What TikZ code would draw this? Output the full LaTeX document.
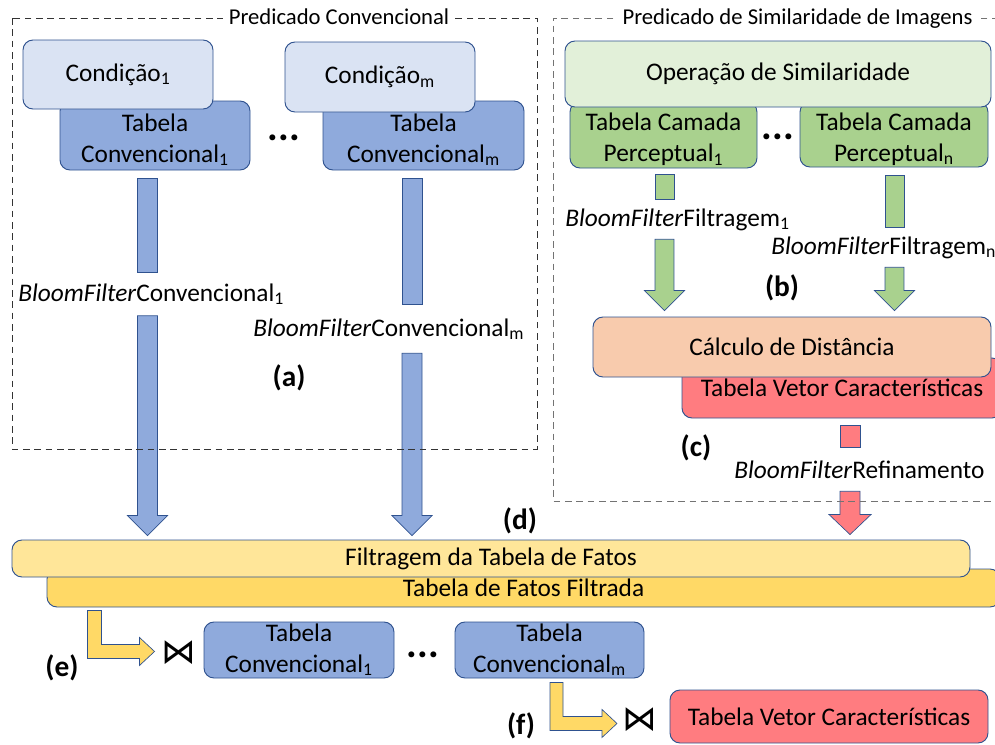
\documentclass[tikz,border=0pt]{standalone}
\usepackage{fontspec}
\setmainfont{Carlito}
\newfontfamily\djv{DejaVu Sans}
\usetikzlibrary{calc}

\definecolor{outl}{HTML}{2F528F}
\definecolor{blueL}{HTML}{DAE3F3}
\definecolor{blueB}{HTML}{8FAADC}
\definecolor{greenL}{HTML}{E2F0D9}
\definecolor{greenB}{HTML}{A9D18E}
\definecolor{orangeL}{HTML}{F8CBAD}
\definecolor{redB}{HTML}{FF7C80}
\definecolor{yellowL}{HTML}{FFE699}
\definecolor{yellowB}{HTML}{FFD966}

\newcommand\txtsz{\fontsize{19}{23}\selectfont}
\newcommand\ttlsz{\fontsize{17}{20}\selectfont}
% taller first line, pushes the two-line labels of half-covered tables down
\newcommand\lowstrut{\rule{0pt}{20pt}}

% vertical block shaft: style, x reference, top point, bottom point, half width
\newcommand\vshaft[5]{%
  \draw[#1] let \p1=(#2), \p2=(#3), \p3=(#4) in
    (\x1-#5,\y2) rectangle (\x1+#5,\y3);}
% vertical block arrow: style, x reference, top point, tip point, shaft half width, head half width
\newcommand\varrow[6]{%
  \draw[#1] let \p1=(#2), \p2=(#3), \p3=(#4) in
    (\x1-#5,\y2) -- (\x1+#5,\y2) -- (\x1+#5,\y3+15pt) -- (\x1+#6,\y3+15pt)
    -- (\x1,\y3) -- (\x1-#6,\y3+15pt) -- (\x1-#5,\y3+15pt) -- cycle;}

\tikzset{
  box/.style={draw=outl, line width=0.7pt, rounded corners=7.5pt, inner sep=0pt,
    align=center, font=\txtsz, text=black},
  span/.style n args={4}{at={({(#1+#3)/2},{(#2+#4)/2})},
    minimum width={(#3-#1)*0.75pt}, minimum height={(#4-#2)*0.75pt}},
  bflabel/.style={inner sep=0pt, anchor=west, font=\txtsz},
  tag/.style={inner sep=0pt, font=\bfseries\fontsize{22}{22}\selectfont},
  dots/.style={inner sep=0pt, anchor=base, font=\bfseries\fontsize{30}{30}\selectfont},
  joinsym/.style={inner sep=0pt, font=\djv\fontsize{26}{26}\selectfont},
  ttl/.style={fill=white, inner xsep=4pt, inner ysep=1.5pt, anchor=base, font=\ttlsz},
  blueblk/.style={fill=blueB, draw=outl, line width=0.5pt},
  greenblk/.style={fill=greenB, draw=outl, line width=0.5pt},
  redblk/.style={fill=redB, draw=outl, line width=0.5pt},
  yellowblk/.style={fill=yellowB, draw=outl, line width=0.5pt},
  dashbox/.style={draw=black!80, line width=0.75pt, dash pattern=on 5pt off 3.5pt},
  dashboxg/.style={draw=black!55, line width=0.75pt, dash pattern=on 5pt off 3.5pt},
}

\begin{document}
\begin{tikzpicture}[x=0.75pt, y=-0.75pt]
\useasboundingbox (0,0) rectangle (995,744);
\clip (0,0) rectangle (995,744);

% ---- conventional predicate tables and conditions
\node[box, fill=blueB, span={60}{101}{250}{170}] (tc1) {\lowstrut Tabela\\Convencional\textsubscript{1}};
\node[box, fill=blueL, span={23}{40}{213}{109}] (c1) {Condição\textsubscript{1}};
\node[box, fill=blueB, span={323}{101}{524}{170}] (tcm) {\lowstrut Tabela\\Convencional\textsubscript{m}};
\node[box, fill=blueL, span={285}{42}{475}{112}] (cm) {Condição\textsubscript{m}};
\node[dots] (dA) at (284,140) {...};

% ---- image similarity predicate
\node[box, fill=greenB, span={570}{102}{757}{168}] (g1) {\lowstrut Tabela Camada\\Perceptual\textsubscript{1}};
\node[box, fill=greenB, span={800}{102}{988}{167}] (gn) {\lowstrut Tabela Camada\\Perceptual\textsubscript{n}};
\node[box, fill=greenL, span={565}{41}{991}{107}] (op) {Operação de Similaridade};
\node[dots] (dB) at (778,139) {...};
\node[box, fill=redB, span={682}{358}{1002}{418}] (tv) {Tabela Vetor Características};
\node[box, fill=orangeL, span={593}{317}{991}{377}] (cd) {Cálculo de Distância};

% ---- fact table
\node[box, fill=yellowB, span={47}{569}{1000}{607}] (tff) {Tabela de Fatos Filtrada};
\node[box, fill=yellowL, span={12}{540}{970}{577}] (ft) {Filtragem da Tabela de Fatos};

% ---- joins
\node[box, fill=blueB, span={204}{622}{394}{678}] (tb1) {Tabela\\Convencional\textsubscript{1}};
\node[box, fill=blueB, span={455}{622}{644}{678}] (tbm) {Tabela\\Convencional\textsubscript{m}};
\node[dots] (dC) at (423,657) {...};
\node[box, fill=redB, span={670}{690}{988}{743}] (tvb) {Tabela Vetor Características};
\node[joinsym] (je) at (179,653) {⋈};
\node[joinsym] (jf) at (640,720) {⋈};

% ---- bloom filter labels
\node[bflabel, minimum height=43*0.75pt] (bfc1) at (18,294) {\textit{BloomFilter}Convencional\textsubscript{1}};
\node[bflabel, minimum height=48*0.75pt] (bfcm) at (253,329) {\textit{BloomFilter}Convencional\textsubscript{m}};
\node[bflabel, minimum height=39*0.75pt] (bff1) at (565,219.5) {\textit{BloomFilter}Filtragem\textsubscript{1}};
\node[bflabel, minimum height=39*0.75pt] (bffn) at (771,247.5) {\textit{BloomFilter}Filtragem\textsubscript{n}};
\node[bflabel, minimum height=43*0.75pt] (bfr) at (734,469.5) {\textit{BloomFilter}Refinamento};

% ---- block arrows
\coordinate (xb1) at (147.5,0);
\coordinate (xbm) at (412,0);
\coordinate (xg1) at (664.5,0);
\coordinate (xgn) at (894.5,0);
\coordinate (xr) at (850,0);

\vshaft{blueblk}{xb1}{$(tc1.south)+(0,8)$}{bfc1.north}{7.5pt}
\varrow{blueblk}{xb1}{bfc1.south}{$(ft.north)+(0,-4)$}{7.5pt}{15pt}
\vshaft{blueblk}{xbm}{$(tcm.south)+(0,8)$}{bfcm.north}{7.5pt}
\varrow{blueblk}{xbm}{bfcm.south}{$(ft.north)+(0,-4)$}{7.5pt}{15pt}

\vshaft{greenblk}{xg1}{$(g1.south)+(0,6)$}{bff1.north}{7.1pt}
\varrow{greenblk}{xg1}{bff1.south}{$(cd.north)+(0,-6)$}{7.1pt}{15pt}
\vshaft{greenblk}{xgn}{$(gn.south)+(0,8)$}{bffn.north}{7.1pt}
\varrow{greenblk}{xgn}{bffn.south}{$(cd.north)+(0,-6)$}{7.1pt}{15pt}

\vshaft{redblk}{xr}{$(tv.south)+(0,7)$}{bfr.north}{7.5pt}
\varrow{redblk}{xr}{bfr.south}{$(ft.north)+(0,-5)$}{7.5pt}{15.75pt}

% elbow arrows into the joins
\coordinate (e0) at ($(tff.south west)+(48,3)$);
\draw[yellowblk] (e0) ++(-7,0) -- ++(14,0) -- ++(0,34) -- ++(38,0) -- ++(0,-7)
  -- ++(15,14) -- ++(-15,14) -- ++(0,-7) -- ++(-52,0) -- cycle;
\coordinate (f0) at ($(tbm.south)+(7,4)$);
\draw[yellowblk] (f0) ++(-6.5,0) -- ++(13,0) -- ++(0,34) -- ++(39,0) -- ++(0,-7)
  -- ++(15,14) -- ++(-15,14) -- ++(0,-7) -- ++(-52,0) -- cycle;

% ---- step tags
\node[tag] (ta) at (289,378) {(a)};
\node[tag] (tb) at (782,288) {(b)};
\node[tag] (tcc) at (696,448) {(c)};
\node[tag] (td) at (520,521) {(d)};
\node[tag] (te) at (62,668) {(e)};
\node[tag] (tf) at (521,726) {(f)};

% ---- predicate frames
\draw[dashbox] (12,18) rectangle (537,449);
\node[ttl] (ttlA) at (339,24.5) {Predicado Convencional};
\draw[dashboxg] (1010,18) -- (553,18) -- (553,501) -- (1010,501);
\node[ttl] (ttlB) at (797.5,24.5) {Predicado de Similaridade de Imagens};
\end{tikzpicture}
\end{document}
